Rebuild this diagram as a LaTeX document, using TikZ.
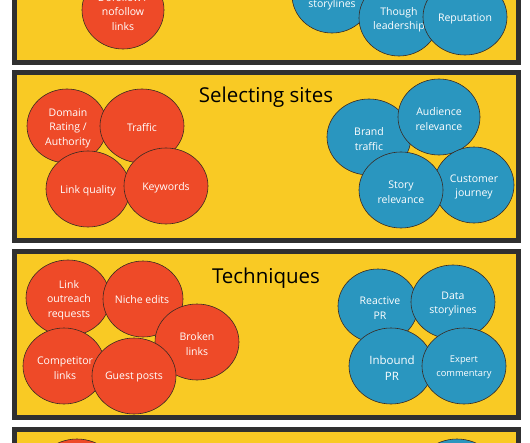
\documentclass[tikz,border=0pt]{standalone}
\usepackage{fontspec}
\setmainfont{Open Sans}
\usetikzlibrary{shapes.geometric}
\definecolor{pyellow}{HTML}{F9CA24}
\definecolor{pborder}{HTML}{303030}
\definecolor{pred}{HTML}{EE4A28}
\definecolor{pblue}{HTML}{2A96BF}
\definecolor{cborder}{HTML}{3A2A22}
\tikzset{
  panel/.style={fill=pyellow, draw=pborder, line width=5pt},
  rc/.style={ellipse, fill=pred, draw=cborder, line width=0.6pt, inner sep=0pt, minimum width=84pt, minimum height=76pt},
  bc/.style={rc, fill=pblue},
  lbl/.style={text=white, align=center, inner sep=0pt, font=\fontsize{10.5}{14.5}\selectfont},
  ttl/.style={font=\fontsize{20.5}{24}\selectfont, text=black, inner sep=0pt}
}
\begin{document}
\begin{tikzpicture}[x=1pt, y=-1pt]
\useasboundingbox (0,0) rectangle (530,442);
\clip (0,0) rectangle (530,442);
\fill[white] (0,0) rectangle (530,442);
% panels
\draw[panel] (14.5,-20) rectangle (518.5,62.5);
\draw[panel] (14.5,72.5) rectangle (518.5,240.5);
\draw[panel] (14.5,251.5) rectangle (518.5,417.5);
\draw[panel] (14.5,429.5) rectangle (518.5,470);

% panel 1 (cut off)
\node[rc, minimum width=82pt, minimum height=78pt] (dofollow) at (123,10) {};
\node[lbl] (dofollowt) at (123,12) {Dofollow /\\nofollow\\links};
\node[bc, minimum width=80pt, minimum height=76pt] (storyc) at (332,-5) {};
\node[lbl] (storyt) at (332,5) {storylines};
\node[bc, minimum width=80pt, minimum height=76pt] (though) at (399,18) {};
\node[lbl] (thought) at (399,20) {Though\\leadership};
\node[bc, minimum width=84pt, minimum height=76pt] (reput) at (465,17) {};
\node[lbl] (reputt) at (465,19) {Reputation};

% panel 2
\node[ttl] (sel) at (266,97) {Selecting sites};
\node[rc, minimum width=80pt, minimum height=74pt] (domain) at (67,126) {};
\node[rc, minimum width=84pt, minimum height=74pt] (traffic) at (142,126) {};
\node[rc, minimum width=84pt, minimum height=76pt] (linkq) at (88,189) {};
\node[rc, minimum width=84pt, minimum height=76pt] (keyw) at (166,186) {};
\node[lbl] (domaint) at (68,128) {Domain\\Rating /\\Authority};
\node[lbl] (traffict) at (142,128) {Traffic};
\node[lbl] (linkqt) at (88,191) {Link quality};
\node[lbl] (keywt) at (166,188) {Keywords};
\node[bc, minimum width=84pt, minimum height=76pt] (brand) at (369,137) {};
\node[bc, minimum width=82pt, minimum height=76pt] (aud) at (439,117) {};
\node[bc, minimum width=80pt, minimum height=76pt] (cust) at (474,185) {};
\node[bc, minimum width=84pt, minimum height=76pt] (storyrel) at (401,190) {};
\node[lbl] (brandt) at (369,139) {Brand\\traffic};
\node[lbl] (audt) at (439,119) {Audience\\relevance};
\node[lbl] (custt) at (474,187) {Customer\\journey};
\node[lbl] (storyrelt) at (401,192) {Story\\relevance};

% panel 3
\node[ttl] (tech) at (266,278) {Techniques};
\node[rc, minimum width=84pt, minimum height=76pt] (outreach) at (68,298) {};
\node[rc, minimum width=80pt, minimum height=76pt] (niche) at (143,299) {};
\node[rc, minimum width=84pt, minimum height=76pt] (broken) at (197,342) {};
\node[rc, minimum width=82pt, minimum height=76pt] (comp) at (64,366) {};
\node[rc, minimum width=84pt, minimum height=76pt] (guest) at (134,376) {};
\node[lbl] (outreacht) at (69,300) {Link\\outreach\\requests};
\node[lbl] (nichet) at (142,300) {Niche edits};
\node[lbl] (brokent) at (197,344) {Broken\\links};
\node[lbl] (compt) at (65,368) {Competitor\\links};
\node[lbl] (guestt) at (134,377) {Guest posts};
\node[bc, minimum width=80pt, minimum height=74pt] (reactive) at (378,306) {};
\node[bc, minimum width=84pt, minimum height=74pt] (datast) at (453,302) {};
\node[bc, minimum width=84pt, minimum height=76pt] (inbound) at (391,366) {};
\node[bc, minimum width=84pt, minimum height=76pt] (expert) at (464,366) {};
\node[lbl] (reactivet) at (380,308) {Reactive\\PR};
\node[lbl] (datastt) at (453,304) {Data\\storylines};
\node[lbl, font=\fontsize{11.5}{15.5}\selectfont] (inboundt) at (392,368) {Inbound\\PR};
\node[lbl, font=\fontsize{9.3}{14}\selectfont] (expertt) at (464,367) {Expert\\commentary};

% panel 4 (cut off)
\node[rc, minimum width=84pt, minimum height=76pt] (red4) at (77,477) {};
\node[bc, minimum width=84pt, minimum height=76pt] (blue4) at (457,477) {};
\end{tikzpicture}
\end{document}
